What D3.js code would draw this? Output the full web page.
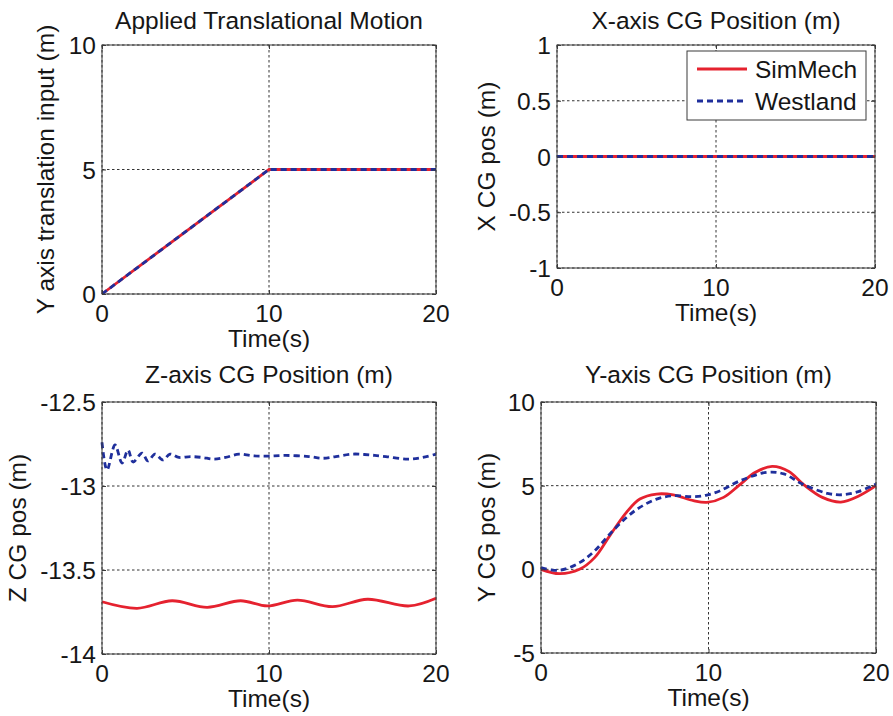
<!DOCTYPE html>
<html lang="en">

<head>
  <title>CG Position</title>
  <script src="https://d3js.org/d3.v7.min.js"></script>
  <style>
    body { margin: 0; background: #fff; }
    text { font-family: "Liberation Sans", Arial, sans-serif; fill: #161616; }
  </style>
</head>

<body>
  <script>
    // Shared labels and ticks
    const seriesNames = ["SimMech", "Westland"];
    const timeTicks = [0, 10, 20];

    // Applied Translational Motion
    const inputTime = [0, 10, 20];
    const inputSimMech = [0, 5, 5];
    const inputWestland = [0, 5, 5];
    const inputTicks = [0, 5, 10];

    // X-axis CG position
    const xTime = [0, 20];
    const xSimMech = [0, 0];
    const xWestland = [0, 0];
    const xTicks = [-1, -0.5, 0, 0.5, 1];

    // Z-axis CG position
    const zSimTime = [0, 2.1, 4.2, 6.3, 8.3, 9.9, 11.7, 13.8, 15.9, 18.4, 20];
    const zSimMech = [-13.689, -13.728, -13.683, -13.722, -13.683, -13.714, -13.679, -13.718, -13.674, -13.714, -13.668];
    const zWestTime = [0, 0.3, 0.78, 1.2, 1.56, 1.86, 2.4, 2.75, 3.17, 3.65, 4.07, 4.6, 5.3, 6, 6.7, 7.4, 8.2, 9, 10, 11, 12.4, 13.2, 14, 15, 16, 17, 18.3, 19.2, 20];
    const zWestland = [-12.74, -12.905, -12.756, -12.863, -12.786, -12.857, -12.804, -12.851, -12.81, -12.845, -12.81, -12.83, -12.825, -12.83, -12.84, -12.83, -12.81, -12.82, -12.822, -12.818, -12.825, -12.835, -12.825, -12.81, -12.815, -12.825, -12.84, -12.83, -12.81];
    const zTicks = [-14, -13.5, -13, -12.5];

    // Y-axis CG position
    const ySimTime = [0, 1.1, 2.3, 3.2, 4.1, 5.1, 5.9, 6.9, 7.9, 9.1, 9.9, 10.9, 11.8, 12.8, 13.8, 14.8, 15.7, 16.8, 17.9, 19.0, 20];
    const ySimMech = [0, -0.26, 0, 0.7, 2.0, 3.4, 4.2, 4.5, 4.45, 4.1, 4.0, 4.3, 5.0, 5.8, 6.15, 5.85, 5.05, 4.3, 4.02, 4.4, 5.0];
    const yWestTime = [0, 1.1, 2.3, 3.2, 4.1, 5.1, 5.9, 6.9, 7.9, 9.1, 9.9, 10.7, 11.9, 13.5, 14.5, 15.6, 17.1, 18.0, 19.0, 20];
    const yWestland = [0.1, -0.06, 0.4, 1.1, 2.1, 3.1, 3.7, 4.2, 4.4, 4.34, 4.44, 4.7, 5.3, 5.8, 5.7, 5.1, 4.54, 4.46, 4.66, 5.1];
    const yTicks = [-5, 0, 5, 10];

    const RED = "#e5222f";
    const BLUE = "#1f2f9c";
    const FS = 24.5; // font size used everywhere

    var svg = d3.select("body")
      .append("svg")
      .attr("width", 893)
      .attr("height", 716);

    // pairs up a time array with a value array
    function zipSeries(t, v) {
      return t.map(function(d, i) { return { t: d, v: v[i] }; });
    }

    // Draws one subplot
    function drawPanel(p) {
      var x = d3.scaleLinear().domain([0, 20]).range([p.left, p.right]);
      var y = d3.scaleLinear().domain(p.domain).range([p.bottom, p.top]);
      var g = svg.append("g");

      // dotted grid
      g.selectAll(".gx")
        .data(timeTicks)
        .enter()
        .append("line")
        .attr("x1", d => x(d)).attr("x2", d => x(d))
        .attr("y1", p.top).attr("y2", p.bottom)
        .attr("stroke", "#333").attr("stroke-width", 1)
        .attr("stroke-dasharray", "2.5,2.5");
      g.selectAll(".gy")
        .data(p.ticks)
        .enter()
        .append("line")
        .attr("x1", p.left).attr("x2", p.right)
        .attr("y1", d => y(d)).attr("y2", d => y(d))
        .attr("stroke", "#333").attr("stroke-width", 1)
        .attr("stroke-dasharray", "2.5,2.5");

      // series
      var line = d3.line()
        .x(d => x(d.t))
        .y(d => y(d.v))
        .curve(p.curve);
      g.append("path")
        .attr("d", line(zipSeries(p.simTime, p.sim)))
        .attr("fill", "none")
        .attr("stroke", RED)
        .attr("stroke-width", 2.8);
      g.append("path")
        .attr("d", line(zipSeries(p.westTime, p.west)))
        .attr("fill", "none")
        .attr("stroke", BLUE)
        .attr("stroke-width", 2.8)
        .attr("stroke-dasharray", "6,4");

      // box
      g.append("rect")
        .attr("x", p.left).attr("y", p.top)
        .attr("width", p.right - p.left).attr("height", p.bottom - p.top)
        .attr("fill", "none").attr("stroke", "#3a3a3a").attr("stroke-width", 1);

      // inward ticks on all sides
      var xAxB = d3.axisBottom(x).tickValues(timeTicks).tickSizeInner(-4).tickSizeOuter(0).tickFormat("");
      var xAxT = d3.axisTop(x).tickValues(timeTicks).tickSizeInner(-4).tickSizeOuter(0).tickFormat("");
      var yAxL = d3.axisLeft(y).tickValues(p.ticks).tickSizeInner(-4).tickSizeOuter(0).tickFormat("");
      var yAxR = d3.axisRight(y).tickValues(p.ticks).tickSizeInner(-4).tickSizeOuter(0).tickFormat("");
      [[xAxB, "translate(0," + p.bottom + ")"], [xAxT, "translate(0," + p.top + ")"],
       [yAxL, "translate(" + p.left + ",0)"], [yAxR, "translate(" + p.right + ",0)"]].forEach(function(a) {
        var ax = g.append("g").attr("transform", a[1]).call(a[0]);
        ax.select(".domain").remove();
        ax.selectAll("line").attr("stroke", "#3a3a3a");
      });

      // tick labels
      g.selectAll(".xl")
        .data(timeTicks)
        .enter()
        .append("text")
        .attr("x", d => x(d))
        .attr("y", p.bottom + 28)
        .attr("text-anchor", "middle")
        .attr("font-size", FS)
        .text(d => d);
      g.selectAll(".yl")
        .data(p.ticks)
        .enter()
        .append("text")
        .attr("x", p.left - 6)
        .attr("y", d => y(d) + 9)
        .attr("text-anchor", "end")
        .attr("font-size", FS)
        .text(d => d);

      // title and axis labels
      g.append("text")
        .attr("x", (p.left + p.right) / 2)
        .attr("y", p.titleY)
        .attr("text-anchor", "middle")
        .attr("font-size", FS)
        .text(p.title);
      g.append("text")
        .attr("x", (p.left + p.right) / 2)
        .attr("y", p.bottom + 53)
        .attr("text-anchor", "middle")
        .attr("font-size", FS)
        .text("Time(s)");
      g.append("text")
        .attr("transform", "translate(" + p.ylabelX + "," + (p.top + p.bottom) / 2 + ") rotate(-90)")
        .attr("text-anchor", "middle")
        .attr("font-size", FS)
        .text(p.ylabel);

      return g;
    }

    drawPanel({
      left: 102, right: 436, top: 45, bottom: 294, titleY: 29, ylabelX: 54,
      domain: [0, 10], ticks: inputTicks, curve: d3.curveLinear,
      simTime: inputTime, sim: inputSimMech, westTime: inputTime, west: inputWestland,
      title: "Applied Translational Motion", ylabel: "Y axis translation input (m)"
    });

    var xPanel = drawPanel({
      left: 557, right: 875, top: 45, bottom: 268, titleY: 29, ylabelX: 495,
      domain: [-1, 1], ticks: xTicks, curve: d3.curveLinear,
      simTime: xTime, sim: xSimMech, westTime: xTime, west: xWestland,
      title: "X-axis CG Position (m)", ylabel: "X CG pos (m)"
    });

    drawPanel({
      left: 102, right: 436, top: 402, bottom: 654, titleY: 383, ylabelX: 25.5,
      domain: [-14, -12.5], ticks: zTicks, curve: d3.curveCatmullRom,
      simTime: zSimTime, sim: zSimMech, westTime: zWestTime, west: zWestland,
      title: "Z-axis CG Position (m)", ylabel: "Z CG pos (m)"
    });

    drawPanel({
      left: 541, right: 876, top: 402, bottom: 653, titleY: 383, ylabelX: 495,
      domain: [-5, 10], ticks: yTicks, curve: d3.curveCatmullRom,
      simTime: ySimTime, sim: ySimMech, westTime: yWestTime, west: yWestland,
      title: "Y-axis CG Position (m)", ylabel: "Y CG pos (m)"
    });

    // Legend in the X-axis panel
    var legend = xPanel.append("g");
    legend.append("rect")
      .attr("x", 687).attr("y", 51)
      .attr("width", 179).attr("height", 69)
      .attr("fill", "#fff").attr("stroke", "#3a3a3a").attr("stroke-width", 1);
    seriesNames.forEach(function(name, i) {
      var ly = 69 + i * 32;
      legend.append("line")
        .attr("x1", 697).attr("x2", 747)
        .attr("y1", ly).attr("y2", ly)
        .attr("stroke", i === 0 ? RED : BLUE)
        .attr("stroke-width", 2.8)
        .attr("stroke-dasharray", i === 0 ? null : "6,4");
      legend.append("text")
        .attr("x", 755)
        .attr("y", ly + 9)
        .attr("font-size", FS)
        .text(name);
    });
  </script>
</body>

</html>
